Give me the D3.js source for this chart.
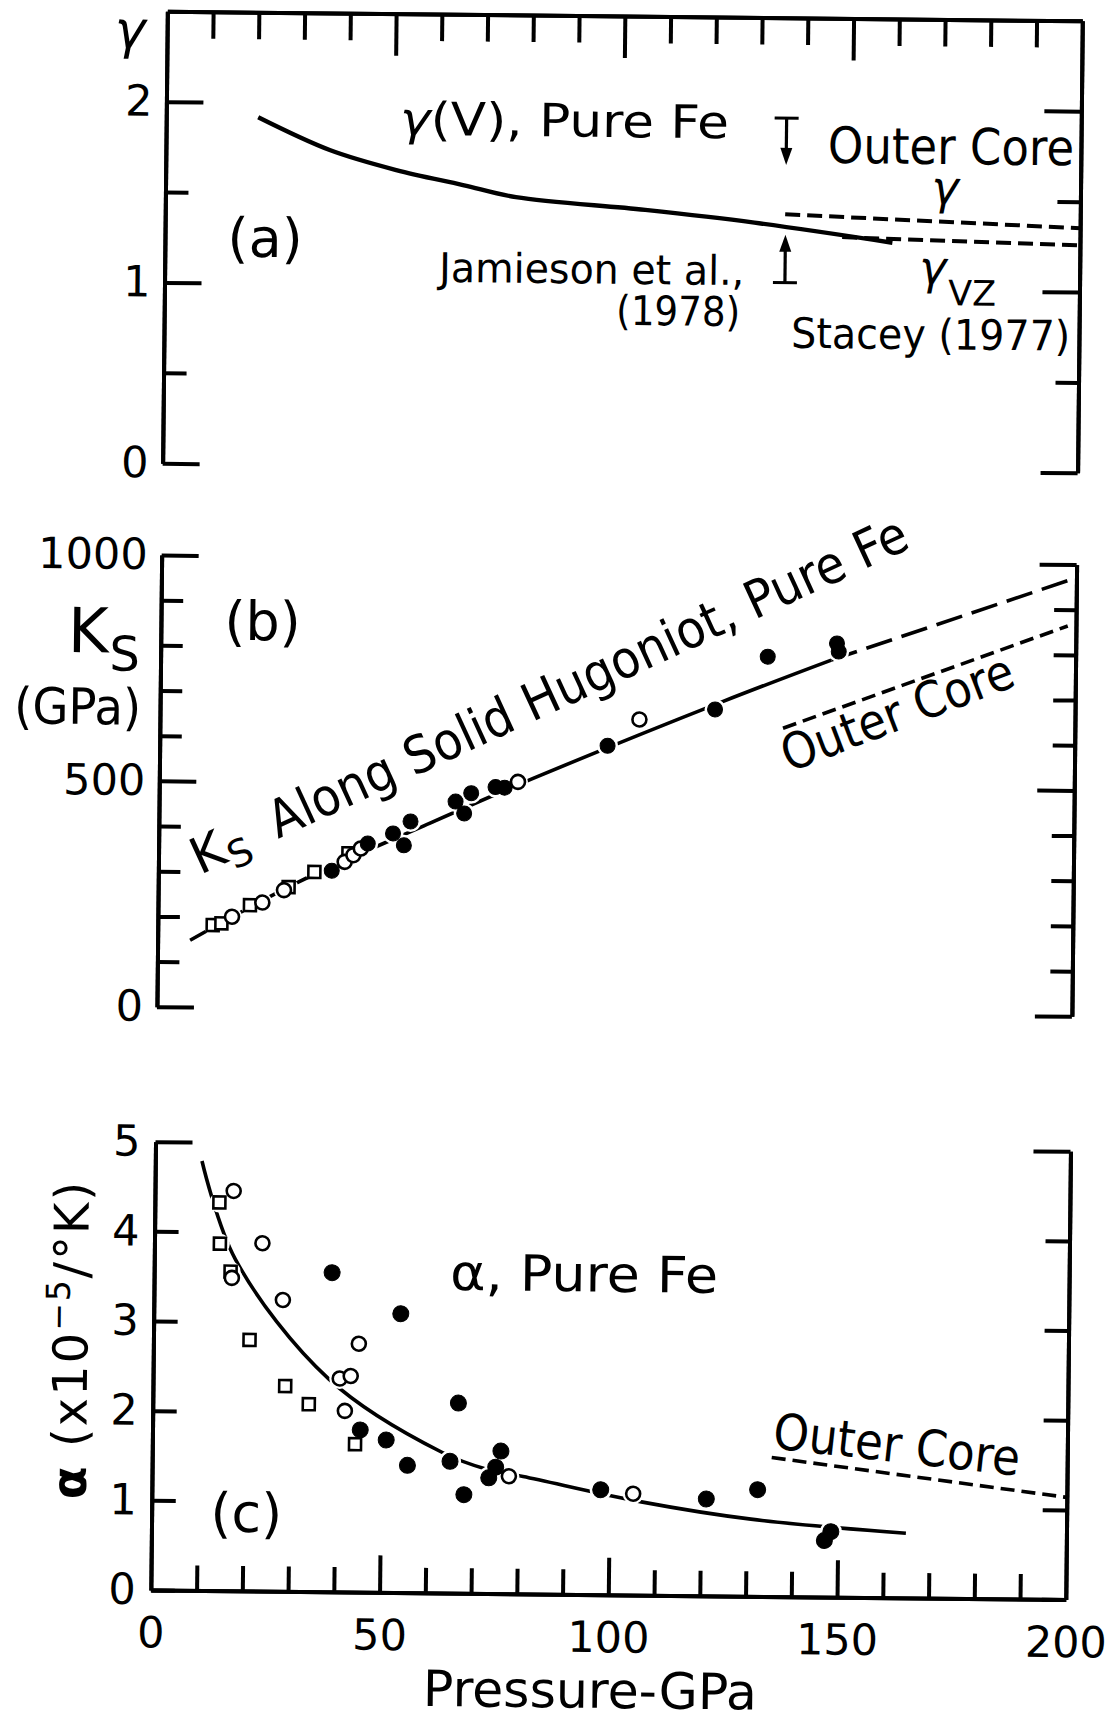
<!DOCTYPE html>
<html>
<head>
<meta charset="utf-8">
<title>Pure Fe: gamma, Ks and alpha against pressure</title>
<script src="https://cdn.jsdelivr.net/npm/d3@7"></script>
<style>
  body { margin: 0; background: #fff; }
  svg { display: block; }
  text { font-family: "DejaVu Sans", sans-serif; fill: #000; }
</style>
</head>
<body>
<div id="chart"></div>
<script>
// ---- values (pressure in GPa) ----

// ticks
const pressureMinor = [10, 20, 30, 40, 60, 70, 80, 90, 110, 120, 130, 140, 160, 170, 180, 190];
const pressureMajor = [50, 100, 150];
const pressureLabels = [0, 50, 100, 150, 200];
const gammaMajor = [0, 1, 2];
const gammaMinor = [0.5, 1.5];
const ksMajor = [0, 500, 1000];
const ksMinor = [100, 200, 300, 400, 600, 700, 800, 900];
const alphaMinor = [0, 1, 2, 3, 4];
const alphaMajor = [5];

// (a) gamma
const gammaV = [[20.1, 1.919], [35.8, 1.742], [50.4, 1.635], [65, 1.556], [76.6, 1.492],
                [104.9, 1.429], [128.8, 1.365], [159, 1.262]];
const gammaCore = [[135.5, 1.413], [200, 1.353]];
const gammaVZ = [[148, 1.29], [200, 1.258]];
const jamiesonArrows = [{ p: 135.6, from: 1.945, to: 1.686 }, { p: 135.6, from: 1.035, to: 1.30 }];

// (b) Ks along the solid Hugoniot
const ksSquares = [[12.0, 182], [13.9, 186], [20.1, 227], [28.5, 268], [34.1, 302], [41.5, 344]];
const ksOpen = [[16.2, 201], [22.8, 233], [27.5, 261], [40.7, 325], [42.6, 340], [44.2, 355],
                [78.4, 506], [104.8, 647]];
const ksFilled = [[37.9, 305], [45.7, 366], [51.2, 389], [53.6, 363], [55.0, 416], [64.8, 461],
                  [66.7, 435], [68.2, 480], [73.5, 494], [75.5, 493], [97.9, 588], [121.3, 671],
                  [132.7, 789], [147.8, 820], [148.2, 802]];
const ksSolid = [[7.1, 148], [30.6, 279], [57.8, 406], [81.7, 514], [122.8, 688], [146.6, 783]];
const ksDashed = [[146.6, 783], [198.6, 966]];
const ksCore = [[136.2, 631], [198.2, 864]];

// (c) thermal expansion
const alphaSquares = [[14.1, 4.33], [14.3, 3.87], [16.7, 3.56], [21.0, 2.80], [28.9, 2.29],
                      [34.1, 2.09], [44.3, 1.65]];
const alphaOpen = [[17.2, 4.46], [17.0, 3.49], [23.6, 3.88], [28.2, 3.25], [44.9, 2.77],
                   [40.8, 2.38], [43.2, 2.41], [42.0, 2.02], [78.0, 1.31], [105.2, 1.13]];
const alphaFilled = [[38.9, 3.56], [54.0, 3.11], [66.8, 2.12], [45.4, 1.81], [51.1, 1.70],
                     [55.8, 1.42], [65.1, 1.47], [68.2, 1.10], [76.2, 1.59], [75.1, 1.41],
                     [73.6, 1.29], [98.1, 1.17], [121.2, 1.08], [132.4, 1.19], [148.5, 0.73],
                     [147.1, 0.63]];
const alphaCurve = [[10.2, 4.79], [17.7, 3.70], [38.5, 2.37], [63.3, 1.57], [73.5, 1.38],
                    [81.1, 1.31], [107, 1.04], [131, 0.86], [164.9, 0.72]];
const alphaCore = [[135.4, 1.55], [200, 1.14]];

// ---- layout ----
const W = 1111, H = 1721;
const X0 = 158.5, X1 = 1073.5;
const FONT = '"DejaVu Sans", sans-serif';

const svg = d3.select('#chart').append('svg')
    .attr('width', W).attr('height', H)
    .style('background', '#fff');

// the scanned page sits slightly rotated
const g = svg.append('g').attr('transform', 'rotate(0.6,615,860)');

const x = d3.scaleLinear().domain([0, 200]).range([X0, X1]);
const yA = d3.scaleLinear().domain([0, 2.5]).range([468, 16]);
const yB = d3.scaleLinear().domain([0, 1000]).range([1011.5, 559.8]);
const yC = d3.scaleLinear().domain([0, 5]).range([1594.8, 1146.5]);

function addAxis(gen, tx, ty) {
    const a = g.append('g')
        .attr('transform', `translate(${tx},${ty})`)
        .call(gen)
        .attr('font-family', FONT)
        .attr('font-size', 43);
    a.selectAll('path, line').attr('stroke', '#000').attr('stroke-width', 4);
    a.selectAll('text').attr('fill', '#000');
    return a;
}
const fmt = d3.format('d');
const none = () => '';

// panel (a) axes
addAxis(d3.axisTop(x).tickValues(pressureMinor).tickSize(-27).tickSizeOuter(0).tickFormat(none), 0, yA(2.5));
addAxis(d3.axisTop(x).tickValues(pressureMajor).tickSize(-42).tickSizeOuter(0).tickFormat(none), 0, yA(2.5));
addAxis(d3.axisLeft(yA).tickValues(gammaMajor).tickSize(-37).tickSizeOuter(0).tickPadding(14).tickFormat(fmt), X0, 0);
addAxis(d3.axisLeft(yA).tickValues(gammaMinor).tickSize(-23).tickSizeOuter(0).tickFormat(none), X0, 0);
addAxis(d3.axisRight(yA).tickValues(gammaMajor).tickSize(-37).tickSizeOuter(0).tickFormat(none), X1, 0);
addAxis(d3.axisRight(yA).tickValues(gammaMinor).tickSize(-23).tickSizeOuter(0).tickFormat(none), X1, 0);

// panel (b) axes
addAxis(d3.axisLeft(yB).tickValues(ksMajor).tickSize(-37).tickSizeOuter(0).tickPadding(14).tickFormat(fmt), X0, 0);
addAxis(d3.axisLeft(yB).tickValues(ksMinor).tickSize(-22).tickSizeOuter(0).tickFormat(none), X0, 0);
addAxis(d3.axisRight(yB).tickValues(ksMajor).tickSize(-37).tickSizeOuter(0).tickFormat(none), X1, 0);
addAxis(d3.axisRight(yB).tickValues(ksMinor).tickSize(-22).tickSizeOuter(0).tickFormat(none), X1, 0);

// panel (c) axes
addAxis(d3.axisLeft(yC).tickValues(alphaMinor).tickSize(-24).tickSizeOuter(0).tickPadding(15).tickFormat(fmt), X0, 0);
addAxis(d3.axisLeft(yC).tickValues(alphaMajor).tickSize(-37).tickSizeOuter(0).tickPadding(15).tickFormat(fmt), X0, 0);
addAxis(d3.axisRight(yC).tickValues(alphaMinor).tickSize(-24).tickSizeOuter(0).tickFormat(none), X1, 0);
addAxis(d3.axisRight(yC).tickValues(alphaMajor).tickSize(-37).tickSizeOuter(0).tickFormat(none), X1, 0);
addAxis(d3.axisBottom(x).tickValues(pressureMinor).tickSize(-25).tickSizeOuter(0).tickFormat(none), 0, yC(0));
addAxis(d3.axisBottom(x).tickValues(pressureMajor).tickSize(-37).tickSizeOuter(0).tickFormat(none), 0, yC(0));
addAxis(d3.axisBottom(x).tickValues(pressureLabels).tickSize(0).tickSizeOuter(0).tickPadding(27).tickFormat(fmt), 0, yC(0))
    .select('.domain').remove();

// ---- helpers ----
function curve(data, yScale, opts) {
    const line = d3.line().x(d => x(d[0])).y(d => yScale(d[1]))
        .curve(opts.smooth ? d3.curveCatmullRom : d3.curveLinear);
    g.append('path').datum(data)
        .attr('d', line)
        .attr('fill', 'none')
        .attr('stroke', '#000')
        .attr('stroke-width', opts.width || 3.5)
        .attr('stroke-dasharray', opts.dash || null);
}

// white discs that open the line around each marker, as in the drawing
function halos(sets, yScale) {
    sets.forEach(s => {
        g.append('g').selectAll('circle').data(s.data).join('circle')
            .attr('cx', d => x(d[0])).attr('cy', d => yScale(d[1]))
            .attr('r', s.halo).attr('fill', '#fff');
    });
}

function markers(data, yScale, type, size) {
    const m = g.append('g');
    if (type === 'square') {
        m.selectAll('rect').data(data).join('rect')
            .attr('x', d => x(d[0]) - size / 2).attr('y', d => yScale(d[1]) - size / 2)
            .attr('width', size).attr('height', size)
            .attr('fill', '#fff').attr('stroke', '#000').attr('stroke-width', 2.6);
    } else {
        m.selectAll('circle').data(data).join('circle')
            .attr('cx', d => x(d[0])).attr('cy', d => yScale(d[1]))
            .attr('r', size)
            .attr('fill', type === 'filled' ? '#000' : '#fff')
            .attr('stroke', '#000').attr('stroke-width', type === 'filled' ? 1 : 2.6);
    }
}

function label(txt, px, py, o = {}) {
    const t = g.append('text')
        .attr('x', px).attr('y', py)
        .attr('font-size', o.size || 40)
        .attr('text-anchor', o.anchor || 'start')
        .text(txt);
    if (o.italic) t.attr('font-style', 'italic');
    if (o.len) t.attr('textLength', o.len).attr('lengthAdjust', 'spacingAndGlyphs');
    if (o.rotate !== undefined) t.attr('transform', `rotate(${o.rotate},${px},${py})`);
    return t;
}

// ---- panel (a) ----
curve(gammaV, yA, { smooth: true, width: 4.4 });
curve(gammaCore, yA, { dash: '15,7', width: 4 });
curve(gammaVZ, yA, { dash: '15,7', width: 4 });

jamiesonArrows.forEach(a => {
    const px = x(a.p), y0 = yA(a.from), y1 = yA(a.to);
    const dir = Math.sign(y1 - y0);
    g.append('line').attr('x1', px - 12).attr('x2', px + 12).attr('y1', y0).attr('y2', y0)
        .attr('stroke', '#000').attr('stroke-width', 3.2);
    g.append('line').attr('x1', px).attr('x2', px).attr('y1', y0).attr('y2', y1 - dir * 12)
        .attr('stroke', '#000').attr('stroke-width', 3.2);
    g.append('path')
        .attr('d', `M${px - 6},${y1 - dir * 17}L${px + 6},${y1 - dir * 17}L${px},${y1}Z`)
        .attr('fill', '#000');
});

label('γ', X0 - 37, 53, { size: 52, anchor: 'middle', italic: true });
const gv = label('', x(51.1), yA(1.83), { size: 46, len: 329 });
gv.append('tspan').attr('font-style', 'italic').text('γ');
gv.append('tspan').text('(V), Pure Fe');
label('(a)', x(21.9), yA(1.147), { size: 54, anchor: 'middle' });
label('Jamieson et al.,', x(60), yA(1.019), { size: 41, len: 305 });
label('(1978)', x(125.9), yA(0.792), { size: 41, anchor: 'end', len: 124 });
label('Outer Core', x(144.7), yA(1.70), { size: 50, len: 246 });
label('γ', x(170.4), yA(1.48), { size: 46, anchor: 'middle', italic: true });
const gvz = label('γ', x(164.9), yA(1.036), { size: 46, italic: true });
gvz.append('tspan').attr('font-size', 35).attr('font-style', 'normal').attr('dx', 2).attr('dy', 21).text('VZ');
label('Stacey (1977)', x(137.1), yA(0.675), { size: 42, len: 279 });

// ---- panel (b) ----
curve(ksSolid, yB, { smooth: true, width: 3.6 });
curve(ksDashed, yB, { dash: '27,10', width: 3.6 });
curve(ksCore, yB, { dash: '14,7', width: 3.6 });
halos([{ data: ksSquares, halo: 9.5 }, { data: ksOpen, halo: 10 }, { data: ksFilled, halo: 10.5 }], yB);
markers(ksSquares, yB, 'square', 12);
markers(ksOpen, yB, 'open', 7);
markers(ksFilled, yB, 'filled', 7.5);

const ksTitle = label('K', X0 - 93, 657.7, { size: 62 });
ksTitle.append('tspan').attr('font-size', 48).attr('dx', 1).attr('dy', 18).text('S');
label('(GPa)', X0 - 82.4, 729.6, { size: 50, anchor: 'middle', len: 127 });
label('(b)', x(22.2), yB(814), { size: 54, anchor: 'middle' });

const ksLab = g.append('g')
    .attr('transform', `translate(${x(9.1)},${yB(292.7)}) rotate(-25.3)`);
const ksK = ksLab.append('text').attr('x', 0).attr('y', 0).attr('font-size', 50).text('K');
ksK.append('tspan').attr('font-size', 38).attr('dx', 1).attr('dy', 10).text('S');
ksLab.append('text').attr('x', 86).attr('y', 0).attr('font-size', 52)
    .attr('textLength', 698).attr('lengthAdjust', 'spacingAndGlyphs')
    .text('Along Solid Hugoniot, Pure Fe');

label('Outer Core', x(137.6), yB(533), { size: 50, len: 245, rotate: -21.5 });

// ---- panel (c) ----
curve(alphaCurve, yC, { smooth: true, width: 3.6 });
curve(alphaCore, yC, { dash: '14,7', width: 3.6 });
halos([{ data: alphaSquares, halo: 10 }, { data: alphaOpen, halo: 10.5 }, { data: alphaFilled, halo: 11 }], yC);
markers(alphaSquares, yC, 'square', 12);
markers(alphaOpen, yC, 'open', 7);
markers(alphaFilled, yC, 'filled', 8);

label('(c)', x(20.7), yC(0.66), { size: 54, anchor: 'middle' });
label('α, Pure Fe', x(64.7), yC(3.38), { size: 50, len: 268 });
label('Outer Core', x(135.4), yC(1.654), { size: 50, len: 248, rotate: 5.8 });

const aTitle = g.append('text')
    .attr('transform', `translate(${X0 - 66},1505) rotate(-90)`)
    .attr('font-size', 48)
    .attr('letter-spacing', 2);
aTitle.append('tspan').attr('font-weight', 'bold').text('α');
aTitle.append('tspan').text(' (x10');
aTitle.append('tspan').attr('font-size', 33).attr('dy', -18).text('−5');
aTitle.append('tspan').attr('dy', 18).text('/°K)');

label('Pressure-GPa', 598.7, 1708, { size: 50, anchor: 'middle', len: 334 });
</script>
</body>
</html>
